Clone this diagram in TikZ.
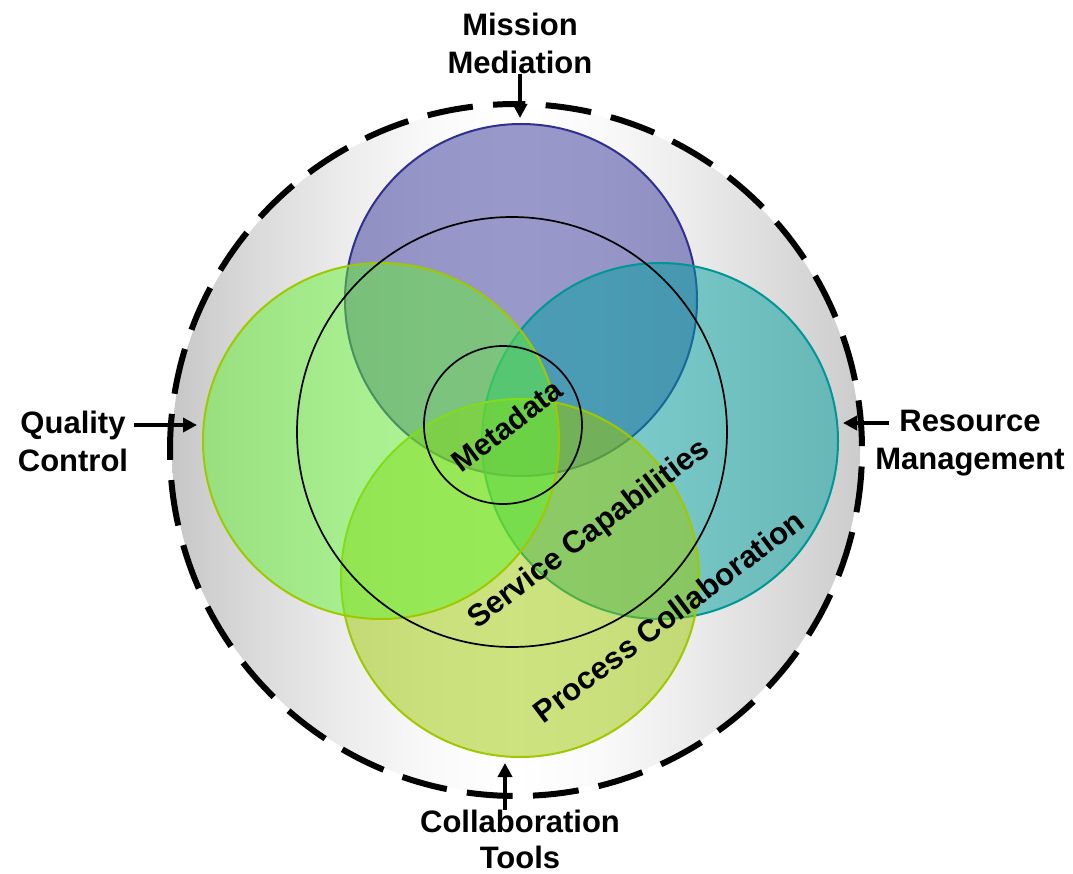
\documentclass[tikz,border=0pt]{standalone}
\usepackage{fontspec}
\setmainfont{Liberation Sans}
\usetikzlibrary{arrows.meta}
\definecolor{cPurple}{RGB}{51,51,153}
\definecolor{cPurpleS}{RGB}{48,48,144}
\definecolor{cTeal}{RGB}{0,160,160}
\definecolor{cTealS}{RGB}{0,150,150}
\definecolor{cGreen}{RGB}{100,240,50}
\definecolor{cGreenS}{RGB}{160,200,0}
\definecolor{cYellow}{RGB}{155,200,0}
\definecolor{cYellowS}{RGB}{160,200,0}
\pgfdeclarehorizontalshading{cylgray}{100bp}{rgb(0bp)=(0.78,0.78,0.78); rgb(25bp)=(0.78,0.78,0.78); rgb(31bp)=(0.855,0.855,0.855); rgb(38bp)=(0.93,0.93,0.93); rgb(44bp)=(0.98,0.98,0.98); rgb(50bp)=(1,1,1); rgb(56bp)=(0.98,0.98,0.98); rgb(62bp)=(0.93,0.93,0.93); rgb(69bp)=(0.86,0.86,0.86); rgb(75bp)=(0.8,0.8,0.8); rgb(100bp)=(0.8,0.8,0.8)}
\tikzset{
  venn/.style={circle, inner sep=0pt, outer sep=0pt, line width=2pt, fill opacity=0.5},
  ring/.style={circle, inner sep=0pt, outer sep=0pt, draw=black, line width=1.7pt},
  lbl/.style={font=\bfseries\fontsize{31}{38}\selectfont, align=center, inner sep=0pt, text=black},
  rlbl/.style={font=\bfseries\fontsize{31}{38}\selectfont, inner sep=0pt, anchor=base, rotate=37, text=black},
  arr/.style={line width=4pt, -{Triangle[width=14pt,length=14pt]}},
  dashcircle/.style={line width=6pt, dash pattern=on 46pt off 20.3pt, dash phase=23pt}
}
\begin{document}
\begin{tikzpicture}[x=1pt,y=1pt]
\useasboundingbox (0,0) rectangle (1073,-874);
\fill[white] (0,0) rectangle (1073,-874);
% outer shaded disc with dashed rim
\coordinate (oc) at (516,-450);
\shade[shading=cylgray] (oc) circle[radius=344];
\draw[dashcircle] ([shift={(90:346)}]oc) arc[start angle=90, end angle=450, radius=346];
% overlapping coloured circles
\node[venn, draw=cPurpleS, fill=cPurple, minimum size=352pt] (purple) at (521,-300) {};
\node[venn, draw=cTealS, fill=cTeal, minimum size=356pt] (teal) at (660,-441) {};
\node[venn, draw=cYellowS, fill=cYellow, minimum size=358pt] (yellow) at (520,-578) {};
\node[venn, draw=cGreenS, fill=cGreen, minimum size=356pt] (green) at (381,-441) {};
% thin rings
\node[ring, minimum size=430pt] (svc) at (512,-432) {};
\node[ring, minimum size=158pt] (meta) at (503,-425) {};
% rotated labels
\node[rlbl, font=\bfseries\fontsize{30}{36}\selectfont] (md) at (513,-434) {Metadata};
\node[rlbl] (sc) at (594,-541) {Service Capabilities};
\node[rlbl] (pc) at (675,-625) {Process Collaboration};
% outer labels
\node[lbl, anchor=north] (mm) at (520,-12.5) {Mission\\Mediation};
\node[lbl, anchor=north] (qc) at (73,-410.5) {Quality\\Control};
\node[lbl, anchor=north] (rm) at (970,-409.5) {Resource\\Management};
\node[lbl, anchor=north] (ct) at (520,-809.5) {Collaboration\\[-2pt]Tools};
% arrows
\coordinate (mmtip) at (520,-118);
\coordinate (qctip) at (197,-425);
\coordinate (rmtail) at (889,-423);
\coordinate (rmtip) at (843,-423);
\coordinate (cttip) at (505,-763);
\draw[arr] (mm.south -| mmtip) -- (mmtip);
\draw[arr, shorten <=6pt] (qc.east |- qctip) -- (qctip);
\draw[arr] (rmtail) -- (rmtip);
\draw[arr] (ct.north -| cttip) -- (cttip);
\end{tikzpicture}
\end{document}
